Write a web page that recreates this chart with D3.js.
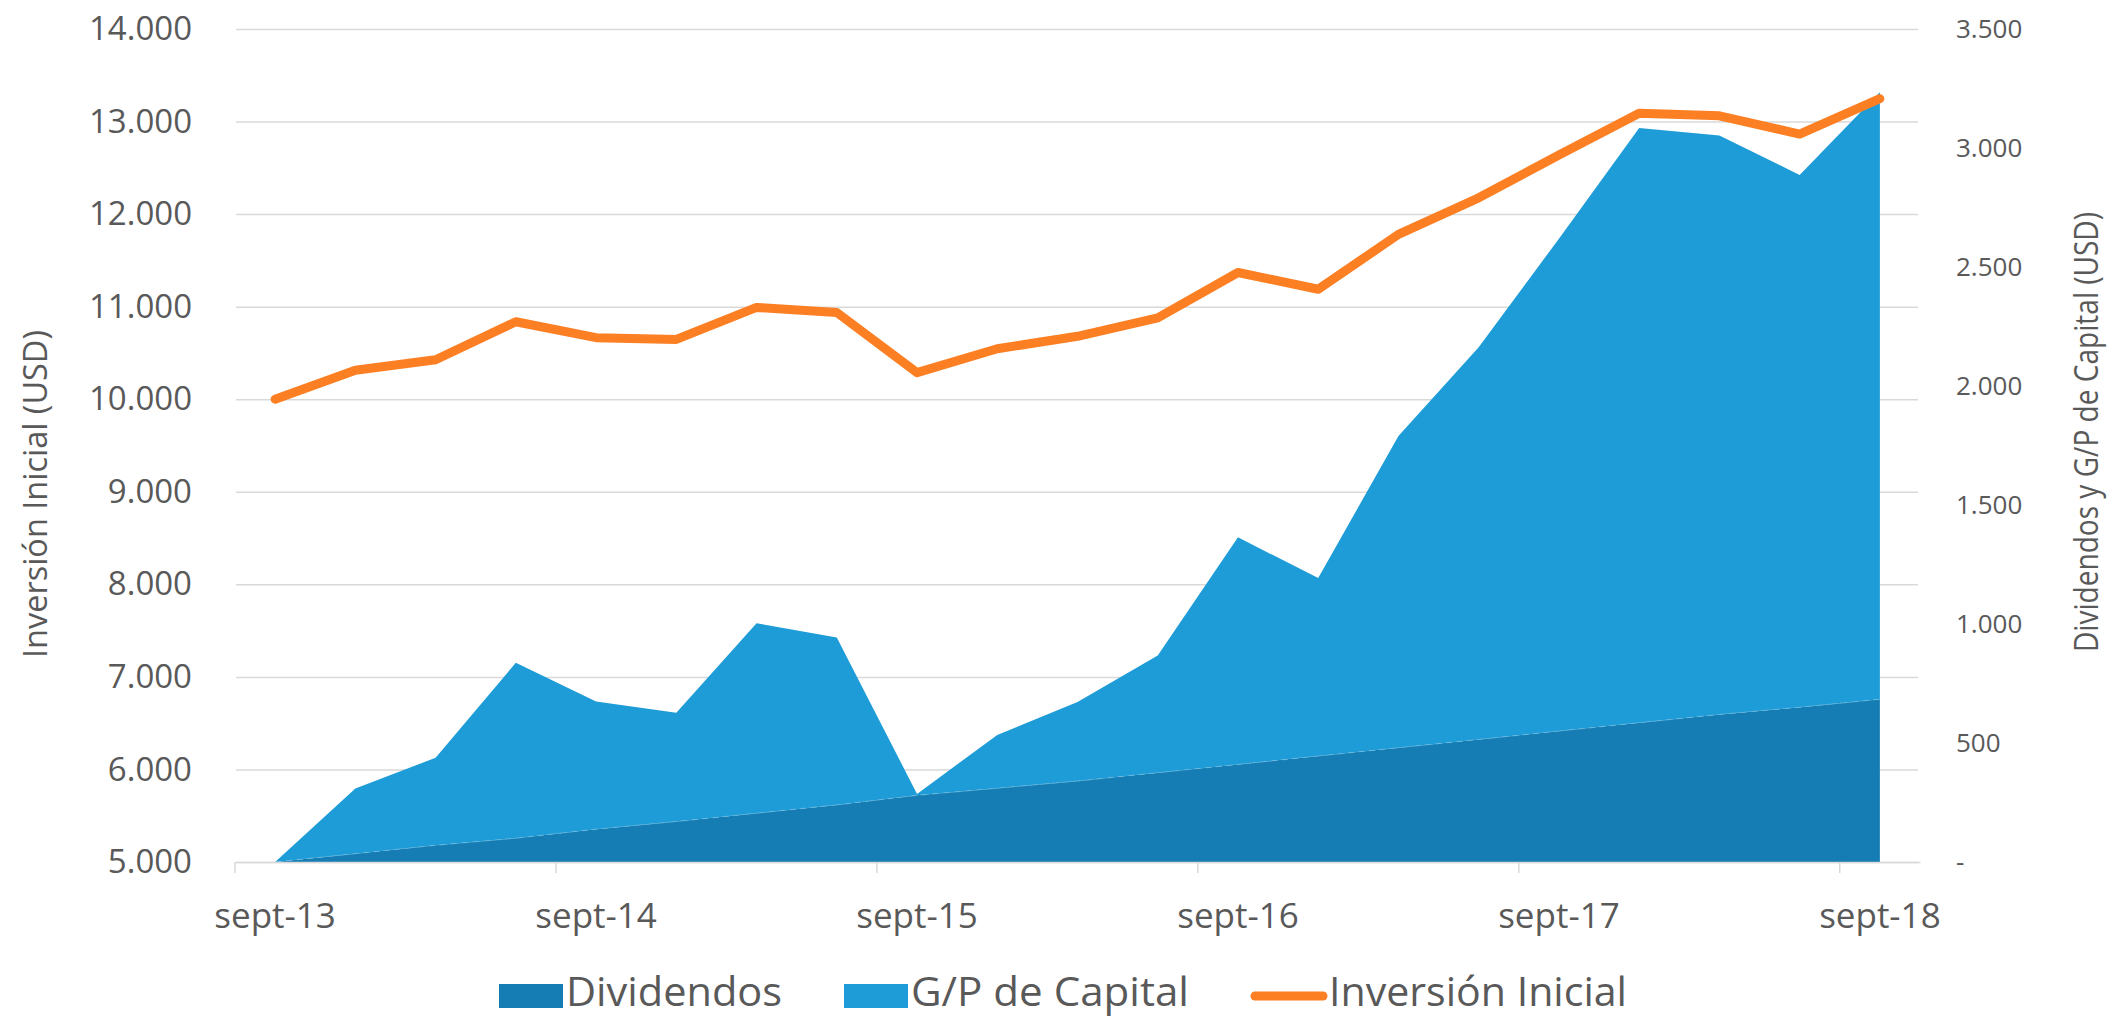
<!DOCTYPE html>
<meta charset="utf-8">
<style>
body { margin: 0; background: #fff; }
text { font-family: "Open Sans", "Liberation Sans", sans-serif; fill: #595959; }
.grid line { stroke: #d9d9d9; stroke-width: 1.5; }
</style>
<body>
<script src="https://cdn.jsdelivr.net/npm/d3@7"></script>
<script>

// quarterly points, sept-13 .. sept-18
var quarters = ["sept-13","dic-13","mar-14","jun-14","sept-14","dic-14","mar-15","jun-15",
  "sept-15","dic-15","mar-16","jun-16","sept-16","dic-16","mar-17","jun-17",
  "sept-17","dic-17","mar-18","jun-18","sept-18"];

var inversion = [10000,10313,10426,10837,10665,10646,10992,10937,10287,10545,10680,
  10878,11369,11188,11781,12176,12639,13090,13062,12865,13247];

var dividendos = [0,35,70,100,138,170,205,240,280,310,340,375,410,445,480,515,550,585,620,650,684];

var capital = [0,274,368,737,536,457,798,703,6,224,332,493,954,748,1310,1648,2069,2499,2432,2237,2550];

var seriesNames = ["Dividendos", "G/P de Capital", "Inversión Inicial"];
var colors = ["#157db3", "#1e9cd7", "#fd7f23"];

var width = 2115, height = 1021;
var plot = {left: 235, right: 1920, top: 29, bottom: 862};

var svg = d3.select("body").append("svg")
    .attr("width", width)
    .attr("height", height);

var es = d3.formatLocale({decimal: ",", thousands: ".", grouping: [3], currency: ["", ""]});
var fmt = es.format(",.0f");

var x = d3.scaleBand()
    .domain(quarters)
    .range([plot.left, plot.right])
    .padding(0);
var cx = function(q) { return x(q) + x.bandwidth() / 2; };

var yL = d3.scaleLinear().domain([5000, 14000]).range([plot.bottom, plot.top]);
var yR = d3.scaleLinear().domain([0, 3500]).range([plot.bottom, plot.top]);

// left axis + gridlines
var gL = svg.append("g")
    .attr("class", "grid")
    .attr("transform", "translate(236,0)")
    .call(d3.axisLeft(yL).ticks(10).tickSize(-(1918 - 236)).tickPadding(44).tickFormat(fmt));
gL.select(".domain").remove();
gL.selectAll("text").style("font-size", "33px");

// right axis
var gR = svg.append("g")
    .attr("transform", "translate(1918,0)")
    .call(d3.axisRight(yR).ticks(7).tickSize(0).tickPadding(38)
      .tickFormat(function(d) { return d === 0 ? "-" : fmt(d); }));
gR.select(".domain").remove();
gR.selectAll("text").style("font-size", "26px");

// stacked areas
var table = quarters.map(function(q, i) {
  return {q: q, div: dividendos[i], cap: capital[i]};
});
var stacked = d3.stack().keys(["div", "cap"])(table);

var area = d3.area()
    .x(function(d) { return cx(d.data.q); })
    .y0(function(d) { return yR(d[0]); })
    .y1(function(d) { return yR(d[1]); });

svg.selectAll(".area")
    .data(stacked)
  .enter().append("path")
    .attr("class", "area")
    .attr("d", area)
    .attr("fill", function(d, i) { return colors[i]; });

// faint seam between the two areas
svg.append("path")
    .datum(table)
    .attr("fill", "none")
    .attr("stroke", "#7dc0e4")
    .attr("stroke-width", 1)
    .attr("stroke-dasharray", "6,5")
    .attr("opacity", 0.6)
    .attr("d", d3.line()
      .x(function(d) { return cx(d.q); })
      .y(function(d) { return yR(d.div); }));

// x axis
var every4 = quarters.filter(function(d, i) { return i % 4 === 0; });
var gX = svg.append("g")
    .attr("transform", "translate(0," + plot.bottom + ")")
    .call(d3.axisBottom(x).tickValues(every4).tickSize(0).tickSizeOuter(0).tickPadding(41));
gX.select(".domain").attr("stroke", "#d9d9d9").attr("stroke-width", 1.5);
gX.selectAll("text").style("font-size", "35px");
gX.selectAll(".tk")
    .data(every4)
  .enter().append("line")
    .attr("class", "tk")
    .attr("x1", function(d) { return x(d); })
    .attr("x2", function(d) { return x(d); })
    .attr("y1", 0)
    .attr("y2", 11)
    .attr("stroke", "#d9d9d9")
    .attr("stroke-width", 1.5);

// orange line
svg.append("path")
    .datum(inversion)
    .attr("fill", "none")
    .attr("stroke", colors[2])
    .attr("stroke-width", 9)
    .attr("stroke-linejoin", "round")
    .attr("stroke-linecap", "round")
    .attr("d", d3.line()
      .x(function(d, i) { return cx(quarters[i]); })
      .y(function(d) { return yL(d); }));

// axis titles
svg.append("text")
    .attr("transform", "translate(47,494) rotate(-90)")
    .attr("text-anchor", "middle")
    .attr("textLength", 328)
    .attr("lengthAdjust", "spacingAndGlyphs")
    .style("font-size", "32px")
    .text("Inversión Inicial (USD)");

svg.append("text")
    .attr("transform", "translate(2098,432) rotate(-90)")
    .attr("text-anchor", "middle")
    .attr("textLength", 440)
    .attr("lengthAdjust", "spacingAndGlyphs")
    .style("font-size", "32px")
    .text("Dividendos y G/P de Capital (USD)");

// legend
var lx = 499, ly = 1006;
var textW = [216, 278, 298];
seriesNames.forEach(function(name, i) {
  if (i < 2) {
    svg.append("rect")
        .attr("x", lx).attr("y", ly - 22)
        .attr("width", 64).attr("height", 24)
        .attr("fill", colors[i]);
    lx += 67;
  } else {
    svg.append("line")
        .attr("x1", lx + 4).attr("x2", lx + 72)
        .attr("y1", ly - 10).attr("y2", ly - 10)
        .attr("stroke", colors[i])
        .attr("stroke-width", 9)
        .attr("stroke-linecap", "round");
    lx += 78;
  }
  svg.append("text")
      .attr("x", lx).attr("y", ly)
      .attr("textLength", textW[i])
      .attr("lengthAdjust", "spacingAndGlyphs")
      .style("font-size", "40px")
      .text(name);
  lx += textW[i] + 62;
});

</script>
</body>
